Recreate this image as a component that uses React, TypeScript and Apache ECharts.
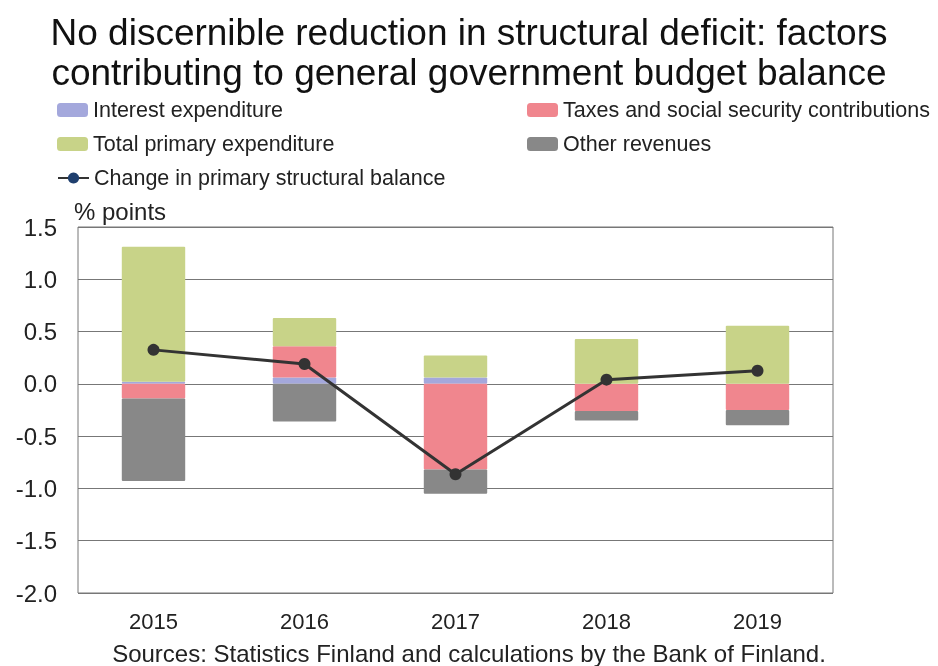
import React, { useEffect, useRef } from "react";
import * as echarts from "echarts";

const years = ["2015", "2016", "2017", "2018", "2019"];
const interestExpenditure = [0.02, 0.06, 0.06, 0.0, 0.0];
const taxesAndContributions = [-0.14, 0.3, -0.82, -0.26, -0.25];
const totalPrimaryExpenditure = [1.29, 0.27, 0.21, 0.43, 0.555];
const otherRevenues = [-0.79, -0.36, -0.23, -0.09, -0.145];
const primaryStructuralChange = [0.325, 0.19, -0.865, 0.04, 0.125];

const FONT = "Liberation Sans, Arial, sans-serif";

export default function App() {
  const ref = useRef<HTMLDivElement>(null);
  useEffect(() => {
    const chart = echarts.init(ref.current!, undefined, { renderer: "svg" });
    const legendText = { fontFamily: FONT, fontSize: 21.5, color: "#222" };
    const mkLegend = (name: string, left: number, top: number, extra: any = {}) => ({
      left,
      top,
      itemWidth: 31,
      itemHeight: 14,
      itemGap: 0,
      textStyle: legendText,
      data: [{ name, ...extra }],
      selectedMode: false,
    });
    const barItem = (color: string) => ({ color, borderRadius: 1 });
    chart.setOption({
      animation: false,
      title: {
        text: "No discernible reduction in structural deficit: factors\ncontributing to general government budget balance",
        left: "center",
        top: 7,
        textStyle: { fontFamily: FONT, fontSize: 37, fontWeight: "normal", color: "#111", lineHeight: 40 },
      },
      legend: [
        mkLegend("Interest expenditure", 52, 94),
        mkLegend("Total primary expenditure", 52, 128),
        mkLegend("Change in primary structural balance", 52, 162, {
          itemStyle: { color: "#1f3f6e" },
          lineStyle: { color: "#333" },
        }),
        mkLegend("Taxes and social security contributions", 522, 94),
        mkLegend("Other revenues", 522, 128),
      ],
      grid: {
        left: 78,
        right: 105,
        top: 227,
        bottom: 73,
        show: true,
        borderColor: "#777",
        borderWidth: 1,
      },
      graphic: [
        {
          type: "text",
          left: 74,
          top: 199,
          style: { text: "% points", fontFamily: FONT, fontSize: 24, fill: "#222" },
        },
        {
          type: "text",
          left: "center",
          top: 641,
          style: {
            text: "Sources: Statistics Finland and calculations by the Bank of Finland.",
            fontFamily: FONT,
            fontSize: 24,
            fill: "#222",
          },
        },
      ],
      xAxis: {
        type: "category",
        data: years,
        axisTick: { show: false },
        axisLine: { show: false },
        axisLabel: { fontFamily: FONT, fontSize: 22, color: "#222", margin: 17 },
      },
      yAxis: {
        type: "value",
        min: -2,
        max: 1.5,
        interval: 0.5,
        axisLine: { show: false },
        axisTick: { show: false },
        splitLine: { lineStyle: { color: "#777", width: 1 } },
        axisLabel: {
          fontFamily: FONT,
          fontSize: 24,
          color: "#222",
          margin: 21,
          formatter: (v: number) => v.toFixed(1),
        },
      },
      series: [
        {
          name: "Interest expenditure",
          type: "bar",
          stack: "total",
          barWidth: "42%",
          data: interestExpenditure,
          itemStyle: barItem("#a4a8dc"),
        },
        {
          name: "Taxes and social security contributions",
          type: "bar",
          stack: "total",
          data: taxesAndContributions,
          itemStyle: barItem("#f0868e"),
        },
        {
          name: "Total primary expenditure",
          type: "bar",
          stack: "total",
          data: totalPrimaryExpenditure,
          itemStyle: barItem("#c8d388"),
        },
        {
          name: "Other revenues",
          type: "bar",
          stack: "total",
          data: otherRevenues,
          itemStyle: barItem("#888888"),
        },
        {
          name: "Change in primary structural balance",
          type: "line",
          data: primaryStructuralChange,
          symbol: "circle",
          symbolSize: 12,
          lineStyle: { color: "#333", width: 3 },
          itemStyle: { color: "#333" },
          z: 5,
        },
      ],
    });
    return () => chart.dispose();
  }, []);
  return <div ref={ref} style={{ width: 938, height: 666, position: "fixed", left: 0, top: 0 }} />;
}
